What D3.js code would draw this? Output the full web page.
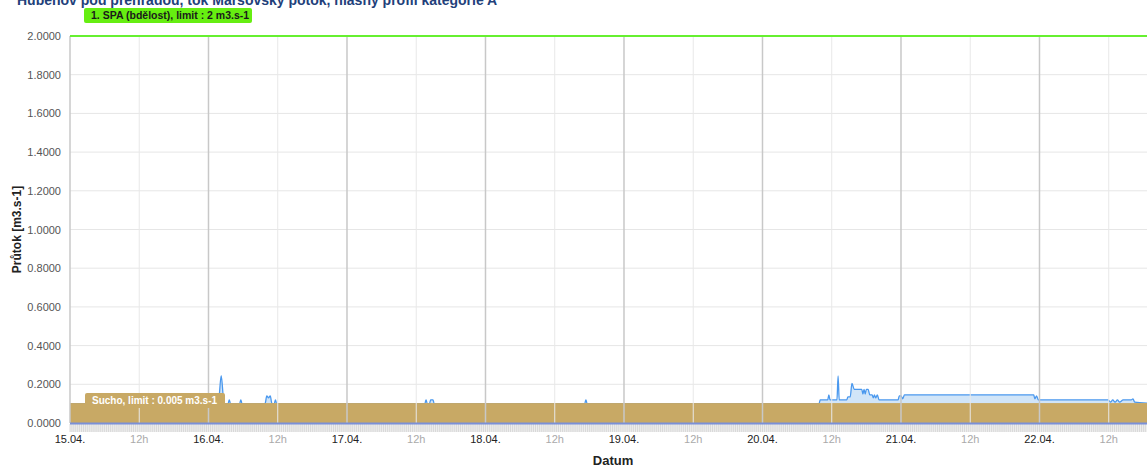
<!DOCTYPE html>
<html>
<head>
<meta charset="utf-8">
<script src="https://cdn.jsdelivr.net/npm/d3@7"></script>
<style>
  body { margin: 0; background: #fff; }
  svg { display: block; font-family: "Liberation Sans", Arial, sans-serif; }
</style>
</head>
<body>
<svg id="chart" width="1147" height="467"></svg>
<script>
// hours from 15.04. 00:00 and flow values
const hours = [0, 25.7, 26.2, 26.7, 27.4, 27.6, 27.8, 29.4, 29.6, 29.8,
  33.8, 34.1, 34.4, 34.7, 35.0, 35.4, 35.6, 35.8,
  61.5, 61.7, 61.9, 62.3, 62.5, 62.9, 63.1, 89.2, 89.4, 89.6,
  129.8, 130.0, 131.3, 131.5, 131.7, 132.9, 133.1, 133.3, 134.6, 134.8, 135.2, 135.5, 135.9,
  137.2, 137.4, 137.6, 137.8, 138.0, 138.3, 138.6, 139.0, 139.2, 139.4, 139.6, 139.9, 140.2,
  143.5, 143.7, 144.0, 144.3, 144.6, 145.0, 167.0, 167.2, 167.5, 167.8,
  179.9, 180.3, 180.7, 181.1, 181.5, 181.9, 182.5, 183.9, 184.2, 184.5, 186.7];
const flow = [0.10, 0.10, 0.245, 0.10, 0.10, 0.12, 0.10, 0.10, 0.12, 0.10,
  0.10, 0.14, 0.13, 0.14, 0.10, 0.10, 0.12, 0.10,
  0.10, 0.12, 0.10, 0.10, 0.12, 0.12, 0.10, 0.10, 0.12, 0.10,
  0.10, 0.119, 0.119, 0.145, 0.119, 0.119, 0.243, 0.119, 0.119, 0.135, 0.135, 0.205, 0.174,
  0.174, 0.15, 0.174, 0.15, 0.174, 0.174, 0.145, 0.145, 0.13, 0.145, 0.13, 0.145, 0.119,
  0.119, 0.14, 0.14, 0.125, 0.145, 0.145, 0.145, 0.125, 0.14, 0.119,
  0.119, 0.108, 0.119, 0.108, 0.119, 0.108, 0.119, 0.119, 0.125, 0.108, 0.103];

const yTicks = [0, 0.2, 0.4, 0.6, 0.8, 1.0, 1.2, 1.4, 1.6, 1.8, 2.0];
const spaLimit = 2;          // 1. SPA (bdělost)
const droughtTop = 0.103;    // drawn extent of the "Sucho" band
const title = "Hubenov pod přehradou, tok Maršovský potok, hlásný profil kategorie A";
const spaLabel = "1. SPA (bdělost), limit : 2 m3.s-1";
const droughtLabel = "Sucho, limit : 0.005 m3.s-1";

const svg = d3.select("#chart");
const plot = { left: 70, right: 1147, top: 36, bottom: 423 };
const t0 = Date.UTC(2024, 3, 15);
const hourMs = 3600 * 1000;
const toDate = h => new Date(t0 + h * hourMs);

const x = d3.scaleUtc()
  .domain([toDate(0), toDate(186.63)])
  .range([plot.left, plot.right]);
const y = d3.scaleLinear()
  .domain([0, 2])
  .range([plot.bottom, plot.top]);

const series = hours.map((h, i) => ({ t: toDate(h), v: flow[i] }));

// title (cut at top of the frame, like the source)
svg.append("text")
  .attr("x", 17).attr("y", 5)
  .attr("fill", "#22407a")
  .attr("font-size", 14).attr("font-weight", "bold")
  .text(title);

// horizontal grid
svg.append("g").selectAll("line")
  .data(yTicks)
  .join("line")
  .attr("x1", plot.left).attr("x2", plot.right)
  .attr("y1", d => y(d)).attr("y2", d => y(d))
  .attr("stroke", "#e6e6e6");

// series area + line
svg.append("path")
  .datum(series)
  .attr("fill", "rgba(124,181,236,0.35)")
  .attr("d", d3.area().x(d => x(d.t)).y0(y(0)).y1(d => y(d.v)).curve(d3.curveMonotoneX));
svg.append("path")
  .datum(series)
  .attr("fill", "none")
  .attr("stroke", "#4a98ee")
  .attr("stroke-width", 1.3)
  .attr("d", d3.line().x(d => x(d.t)).y(d => y(d.v)).curve(d3.curveMonotoneX));

// drought band
svg.append("rect")
  .attr("x", plot.left).attr("width", plot.right - plot.left)
  .attr("y", y(droughtTop)).attr("height", y(0) - y(droughtTop))
  .attr("fill", "#c8a965");

// vertical grid, 12h steps
const halfDays = x.ticks(d3.utcHour.every(12));
svg.append("g").selectAll("line")
  .data(halfDays)
  .join("line")
  .attr("x1", d => x(d)).attr("x2", d => x(d))
  .attr("y1", plot.top).attr("y2", plot.bottom)
  .attr("stroke", d => d.getUTCHours() === 0 ? "#c8c8c8" : "#e8e8e8")
  .attr("stroke-width", d => d.getUTCHours() === 0 ? 1.5 : 1);

// SPA limit line
svg.append("line")
  .attr("x1", plot.left).attr("x2", plot.right)
  .attr("y1", y(spaLimit)).attr("y2", y(spaLimit))
  .attr("stroke", "#66f030").attr("stroke-width", 2);

// dense minor ticks under the plot
const minor = d3.utcMinute.every(20).range(toDate(0), toDate(186.63));
svg.append("rect")
  .attr("x", plot.left).attr("y", plot.bottom + 1).attr("width", plot.right - plot.left).attr("height", 8)
  .attr("fill", "#f0f0f0");
svg.append("g").selectAll("line")
  .data(minor)
  .join("line")
  .attr("x1", d => x(d)).attr("x2", d => x(d))
  .attr("y1", plot.bottom + 1).attr("y2", plot.bottom + 9)
  .attr("stroke", "#d2d2d2").attr("stroke-width", 0.8);

// zero line
svg.append("line")
  .attr("x1", plot.left).attr("x2", plot.right)
  .attr("y1", y(0) + 0.5).attr("y2", y(0) + 0.5)
  .attr("stroke", "#7a90d8").attr("stroke-width", 2);

// x labels
svg.append("g").selectAll("text")
  .data(halfDays)
  .join("text")
  .attr("x", d => x(d)).attr("y", 443)
  .attr("text-anchor", "middle")
  .attr("font-size", 11)
  .attr("fill", d => d.getUTCHours() === 0 ? "#222" : "#aaaaaa")
  .text(d => d.getUTCHours() === 0 ? d3.utcFormat("%d.%m.")(d) : "12h");

// y labels
svg.append("g").selectAll("text")
  .data(yTicks)
  .join("text")
  .attr("x", 61).attr("y", d => y(d) + 4)
  .attr("text-anchor", "end")
  .attr("font-size", 11)
  .attr("fill", "#555")
  .text(d => d.toFixed(4));

// axis titles
svg.append("text")
  .attr("transform", "translate(21," + y(1) + ") rotate(-90)")
  .attr("text-anchor", "middle")
  .attr("font-size", 12).attr("font-weight", "bold")
  .attr("fill", "#222")
  .text("Průtok [m3.s-1]");
svg.append("text")
  .attr("x", 613).attr("y", 465)
  .attr("text-anchor", "middle")
  .attr("font-size", 13).attr("font-weight", "bold")
  .attr("fill", "#222")
  .text("Datum");

// plot line labels
function tag(xp, yp, w, fill, color, label, size) {
  svg.append("rect")
    .attr("x", xp).attr("y", yp).attr("width", w).attr("height", 15)
    .attr("rx", 2).attr("fill", fill);
  svg.append("text")
    .attr("x", xp + 7).attr("y", yp + 11)
    .attr("font-size", size).attr("font-weight", "bold")
    .attr("fill", color)
    .text(label);
}
tag(84, 8, 168, "#66ee11", "#1a1a1a", spaLabel, 10.5);
tag(85, 393, 140, "#c8a965", "#ffffff", droughtLabel, 10);
</script>
</body>
</html>
